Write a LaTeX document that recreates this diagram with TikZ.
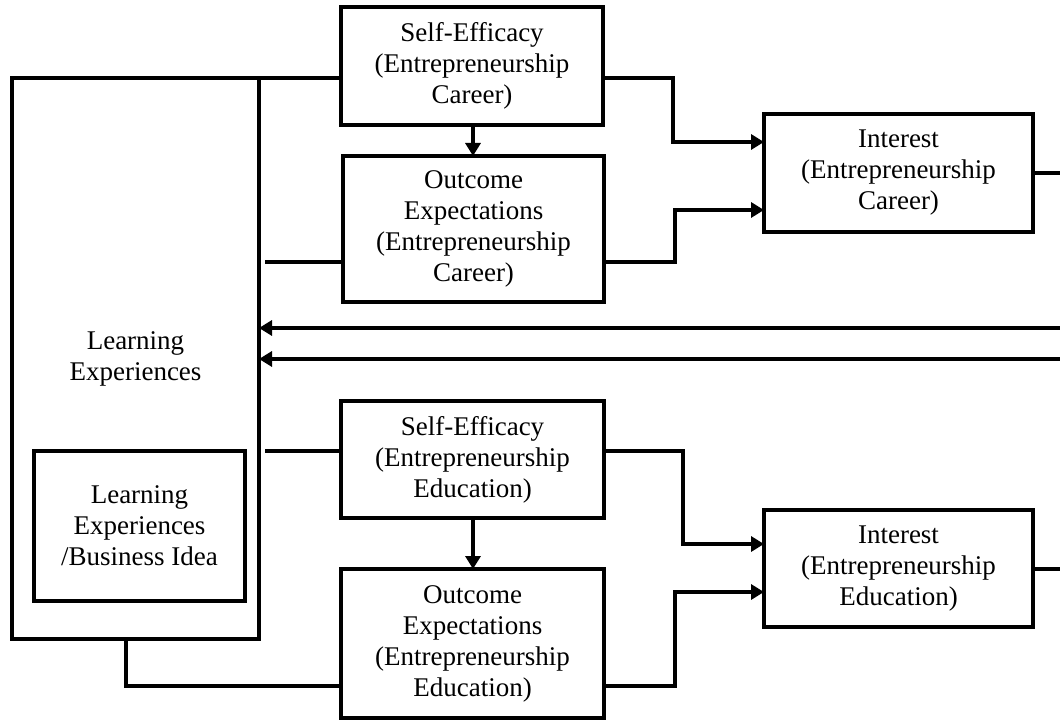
\documentclass[tikz,border=0pt]{standalone}
\usepackage{fontspec}
\setmainfont{Liberation Serif}
\usetikzlibrary{arrows.meta}
\begin{document}
\begin{tikzpicture}[x=0.5pt,y=-0.5pt,
  box/.style={draw,line width=2pt,rectangle,inner sep=0pt,outer sep=0pt,align=center,
    font=\fontsize{13.5}{15.5}\selectfont},
  link/.style={line width=2pt},
  arr/.style={line width=2pt,-{Triangle[length=6.5pt,width=7.5pt]}}]
\useasboundingbox (0,0) rectangle (1060,721);

% boxes
\node[box,minimum width=247*0.5pt,minimum height=561*0.5pt] (LE) at (135.5,358.5) {Learning\\Experiences};
\node[box,minimum width=211*0.5pt,minimum height=150*0.5pt] (LEBI) at (139.5,526) {Learning\\Experiences\\/Business Idea};
\node[box,minimum width=262*0.5pt,minimum height=118*0.5pt] (SE1) at (472,66) {Self-Efficacy\\(Entrepreneurship\\Career)};
\node[box,minimum width=261*0.5pt,minimum height=146*0.5pt] (OE1) at (473.5,229) {Outcome\\Expectations\\(Entrepreneurship\\Career)};
\node[box,minimum width=269*0.5pt,minimum height=118*0.5pt] (IC1) at (898.5,173) {Interest\\(Entrepreneurship\\Career)};
\node[box,minimum width=263*0.5pt,minimum height=117*0.5pt] (SE2) at (472.5,459.5) {Self-Efficacy\\(Entrepreneurship\\Education)};
\node[box,minimum width=263*0.5pt,minimum height=149*0.5pt] (OE2) at (472.5,643.5) {Outcome\\Expectations\\(Entrepreneurship\\Education)};
\node[box,minimum width=269*0.5pt,minimum height=117*0.5pt] (IC2) at (898.5,568.5) {Interest\\(Entrepreneurship\\Education)};

% routing points
\coordinate (edgeR) at (1060,0);
\coordinate (r1) at (265,262);
\coordinate (a1) at (673,142);
\coordinate (b1) at (675,210);
\coordinate (fb1) at (0,328);
\coordinate (fb2) at (0,359);
\coordinate (s2) at (265,451);
\coordinate (a2) at (683,544);
\coordinate (c1) at (126,686);
\coordinate (b2) at (675,592);

% career branch
\draw[link] (LE.north -| c1) -- (LE.north -| SE1.west);
\draw[arr] (SE1.east |- LE.north) -| (a1) -- (a1 -| IC1.west);
\draw[arr] (SE1.south -| 473,0) -- (OE1.north -| 473,0);
\draw[link] (r1) -- (r1 -| OE1.west);
\draw[arr] (OE1.east |- r1) -| (b1) -- (b1 -| IC1.west);
\draw[link] (IC1.east) -- (IC1.east -| edgeR);

% feedback into learning experiences
\draw[arr] (edgeR |- fb1) -- (LE.east |- fb1);
\draw[arr] (edgeR |- fb2) -- (LE.east |- fb2);

% education branch
\draw[link] (s2) -- (s2 -| SE2.west);
\draw[arr] (SE2.east |- s2) -| (a2) -- (a2 -| IC2.west);
\draw[arr] (SE2.south -| 473,0) -- (OE2.north -| 473,0);
\draw[link] (LE.south -| c1) -- (c1) -- (c1 -| OE2.west);
\draw[arr] (OE2.east |- c1) -| (b2) -- (b2 -| IC2.west);
\draw[link] (IC2.east) -- (IC2.east -| edgeR);
\end{tikzpicture}
\end{document}
